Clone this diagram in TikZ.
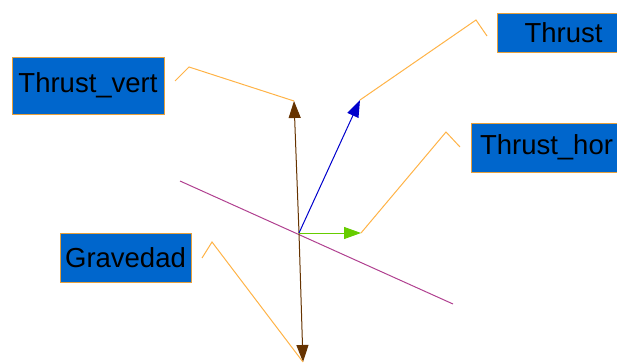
\documentclass[tikz,border=0pt]{standalone}
\usepackage{fontspec}
\setmainfont{Liberation Sans}
\usetikzlibrary{arrows.meta}
\definecolor{boxblue}{RGB}{0,102,204}
\definecolor{callout}{RGB}{255,179,71}
\definecolor{boxedge}{RGB}{230,160,60}
\definecolor{vbrown}{RGB}{102,51,0}
\definecolor{vblue}{RGB}{0,0,204}
\definecolor{vgreen}{RGB}{102,204,0}
\definecolor{slope}{RGB}{176,64,144}
\tikzset{
  label box/.style={draw=boxedge, fill=boxblue, inner sep=0pt, line width=0.8pt,
    font=\fontsize{27.5}{30}\selectfont, text=black},
  force/.style={line width=1pt, -{Triangle[length=17pt,width=12pt]}},
  pointer/.style={callout, line width=1pt}
}
\begin{document}
\begin{tikzpicture}[x=1pt,y=-1pt]
    \useasboundingbox (0,0) rectangle (617,363);
    % labels
    \node[label box, minimum width=152pt, minimum height=57pt] (vert) at (88,85.5) {Thrust\_vert};
    \node[label box, minimum width=133pt, minimum height=39pt] (thrust) at (563.5,32.5) {Thrust};
    \node[label box, minimum width=151pt, minimum height=49pt] (hor) at (546.5,147.5) {Thrust\_hor};
    \node[label box, minimum width=131pt, minimum height=49pt] (grav) at (125.5,257.5) {Gravedad};
    % vectors
    \coordinate (O) at (299,233);
    \coordinate (up) at (294,101);
    \coordinate (down) at (303,362);
    \coordinate (t) at (360,100);
    \coordinate (h) at (361,233);
    \draw[slope, line width=1pt] (180,181) -- (453,304);
    \draw[force, vbrown] (O) -- (up);
    \draw[force, vbrown] (O) -- (down);
    \draw[force, vblue] (O) -- (t);
    \draw[force, vgreen] (O) -- (h);
    % pointers
    \draw[pointer] (175,81) -- (189,67) -- (up);
    \draw[pointer] (487,36) -- (476,20) -- (t);
    \draw[pointer] (460,147) -- (446,132) -- (h);
    \draw[pointer] (202,258) -- (212,242) -- (down);
  \end{tikzpicture}
\end{document}
